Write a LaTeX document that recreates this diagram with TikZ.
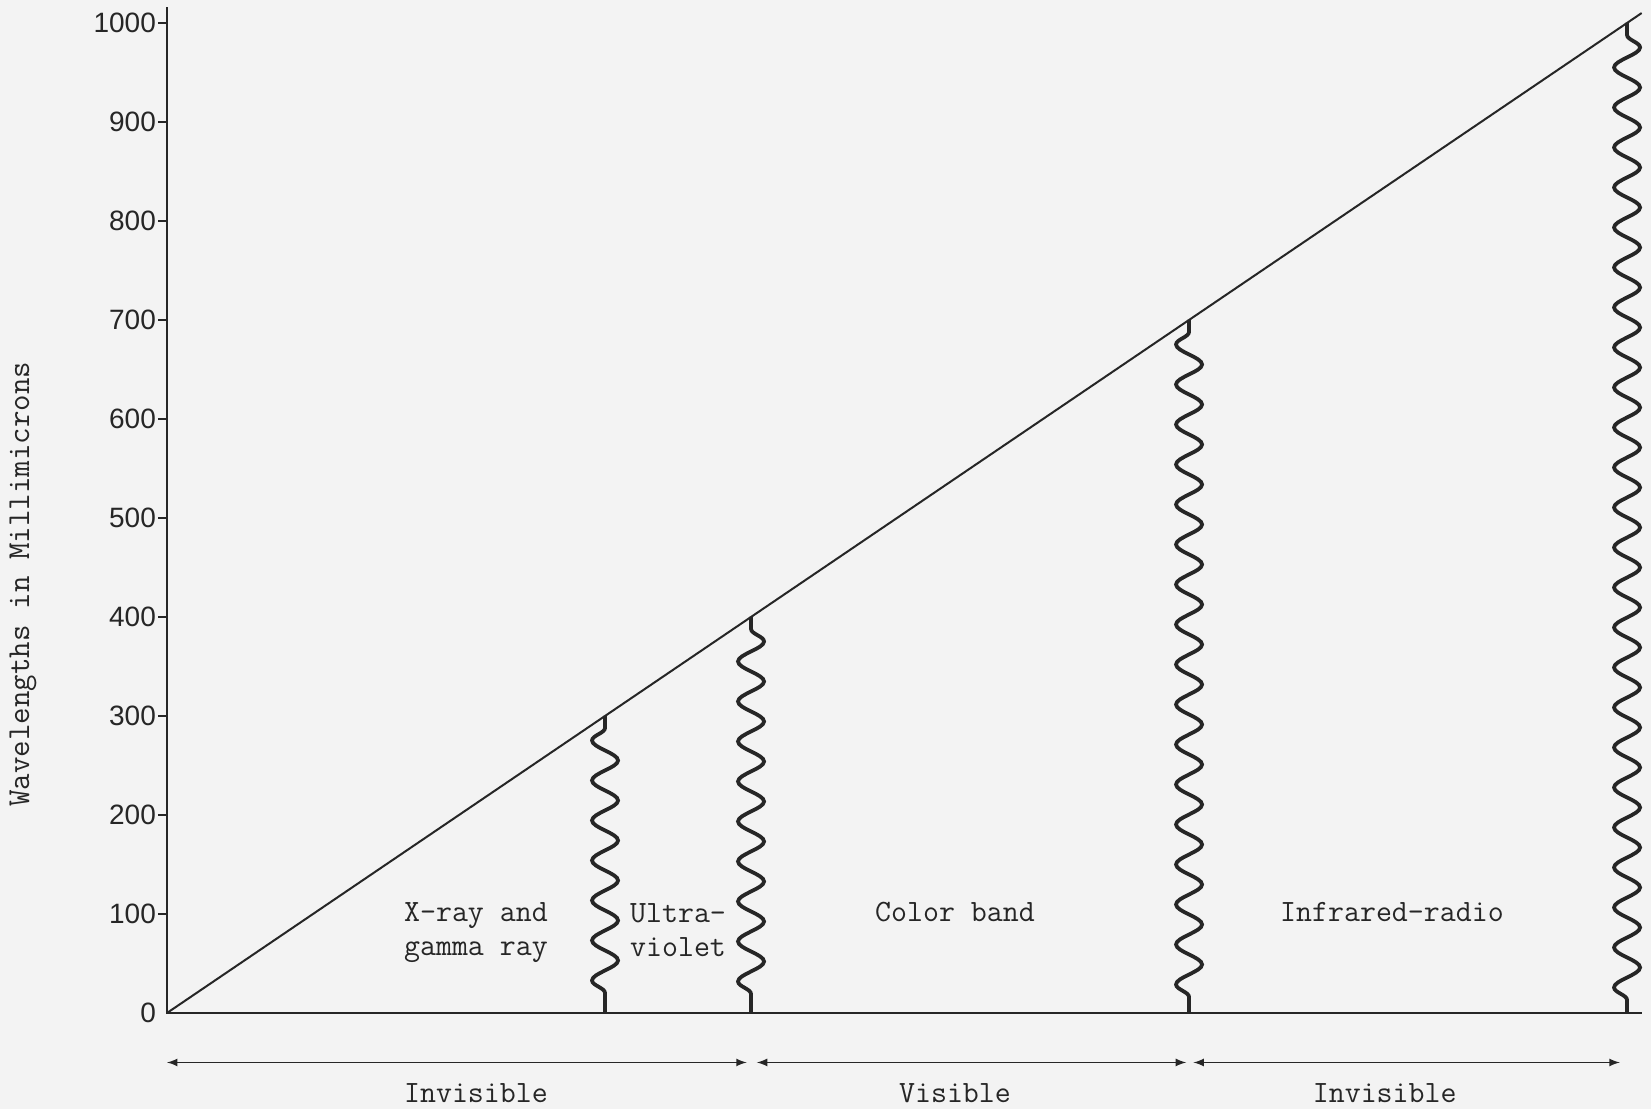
\documentclass[tikz,border=0pt]{standalone}
\usepackage{fontspec}
\setsansfont{Liberation Sans}
\usetikzlibrary{decorations.pathmorphing}
\definecolor{paper}{RGB}{243,243,243}
\definecolor{ink}{RGB}{38,38,38}
\tikzset{
	wave/.style={ink,line width=1.9pt,decorate,
		decoration={snake,amplitude=6.5pt,segment length=20pt,pre length=6pt,post length=1pt,mirror=#1}},
	wave/.default=true,
	band/.style={font=\fontsize{15.5}{17}\selectfont\ttfamily,text=ink,align=center},
	ticklabel/.style={font=\fontsize{14}{16}\selectfont\sffamily,text=ink,anchor=east,inner sep=1pt}
}
\begin{document}
\begin{tikzpicture}[x=0.73pt,y=0.495pt]
		\fill[paper] (-114.4,-97) rectangle (1016.4,1023.2);
		\useasboundingbox (-114.4,-97) rectangle (1016.4,1023.2);
		\coordinate (O) at (0,0);
		\coordinate (ytop) at (0,1016);
		\coordinate (xend) at (1010,0);
		\coordinate (dend) at (1010,1010);

		\draw[ink,line width=1pt] (ytop) -- (O) -- (xend);
		\draw[ink,line width=1pt] (O) -- (dend);

		\node[ticklabel] (l0) at (-6,0) {0};
		\foreach \v in {100,200,...,1000}{
		    \draw[ink,line width=0.8pt] (-6,\v) -- (0,\v);
		    \node[ticklabel] (l\v) at (-6,\v) {\v};
		}
		\node[band,font=\fontsize{16}{18}\selectfont\ttfamily,rotate=90] (ylab) at (-98.6,433) {Wavelengths in Millimicrons};

		% limits of the bands
		\foreach \w/\m in {300/true,400/false,700/true,1000/false}{
		    \coordinate (top\w) at (\w,\w);
		    \coordinate (bot\w) at (\w,0);
		    \draw[wave=\m] (top\w) -- (bot\w);
		}

		\node[band] (xray) at (211.6,81) {X-ray and\\gamma ray};
		\node[band] (ultra) at (350,84) {Ultra-\\violet};
		\node[band] (color) at (539.7,102) {Color band};
		\node[band] (infra) at (839,102) {Infrared-radio};

		\coordinate (a0) at (0,-50);
		\coordinate (a1) at (397,-50);
		\coordinate (b0) at (404,-50);
		\coordinate (b1) at (698,-50);
		\coordinate (c0) at (703,-50);
		\coordinate (c1) at (995,-50);
		\begin{scope}[<->,>=latex,ink,line width=0.8pt]
		    \draw (a0) -- (a1);
		    \draw (b0) -- (b1);
		    \draw (c0) -- (c1);
		\end{scope}
		\node[band] (inv1) at (211.6,-81) {Invisible};
		\node[band] (vis) at (539.7,-81) {Visible};
		\node[band] (inv2) at (834,-81) {Invisible};
	    \end{tikzpicture}
\end{document}
